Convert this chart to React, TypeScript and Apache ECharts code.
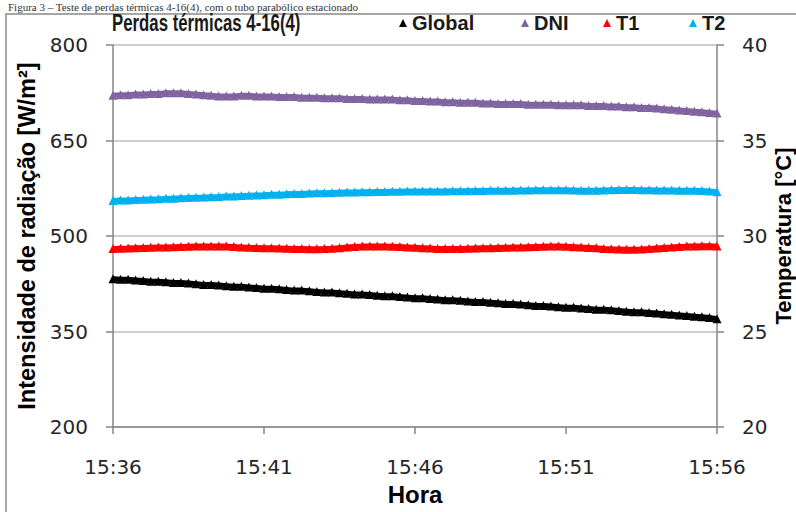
import React, { useEffect, useRef } from "react";
import * as echarts from "echarts";

// 15-second samples, 15:36:00 .. 15:56:00
const startMinute = 15 * 60 + 36;
const sampleCount = 81;
const times: string[] = [];
for (let i = 0; i < sampleCount; i++) {
  const totalSec = startMinute * 60 + i * 15;
  const h = Math.floor(totalSec / 3600);
  const m = Math.floor((totalSec % 3600) / 60);
  const s = totalSec % 60;
  times.push(`${h}:${String(m).padStart(2, "0")}:${String(s).padStart(2, "0")}`);
}

const seriesNames = ["Global", "DNI", "T1", "T2"];

const globalValues = [
  433, 432, 432, 431, 430, 429, 429, 428, 427, 427,
  426, 425, 424, 424, 423, 422, 421, 421, 420, 419,
  418, 418, 417, 416, 415, 415, 414, 413, 412, 412,
  411, 410, 409, 409, 408, 407, 406, 406, 405, 404,
  403, 403, 402, 401, 400, 400, 399, 398, 397, 397,
  396, 395, 394, 394, 393, 392, 391, 391, 390, 389,
  388, 388, 387, 386, 385, 385, 384, 383, 382, 381,
  381, 380, 379, 378, 377, 376, 375, 374, 373, 372,
  370,
];

const dniValues = [
  721, 722, 722, 723, 723, 724, 724, 725, 725, 725,
  724, 723, 722, 721, 720, 720, 720, 721, 721, 720,
  720, 720, 719, 719, 719, 718, 718, 718, 717, 717,
  717, 716, 716, 716, 715, 715, 715, 715, 714, 714,
  713, 713, 712, 712, 711, 711, 710, 710, 710, 709,
  709, 708, 708, 708, 708, 707, 707, 707, 707, 706,
  706, 706, 706, 705, 705, 705, 704, 704, 703, 703,
  702, 702, 701, 700, 699, 698, 697, 696, 695, 694,
  693,
];

const t1Values = [
  29.34, 29.36, 29.37, 29.39, 29.40, 29.41, 29.42, 29.43, 29.44, 29.45,
  29.46, 29.47, 29.48, 29.48, 29.48, 29.47, 29.45, 29.43, 29.41, 29.40,
  29.39, 29.38, 29.37, 29.36, 29.35, 29.34, 29.33, 29.33, 29.34, 29.36,
  29.39, 29.42, 29.45, 29.47, 29.48, 29.48, 29.47, 29.46, 29.45, 29.43,
  29.41, 29.39, 29.37, 29.35, 29.34, 29.34, 29.35, 29.36, 29.37, 29.38,
  29.39, 29.40, 29.41, 29.42, 29.43, 29.44, 29.45, 29.46, 29.47, 29.47,
  29.46, 29.44, 29.42, 29.40, 29.38, 29.35, 29.33, 29.32, 29.31, 29.31,
  29.32, 29.34, 29.37, 29.40, 29.43, 29.45, 29.47, 29.48, 29.49, 29.49,
  29.47,
];

const t2Values = [
  31.86, 31.88, 31.89, 31.91, 31.92, 31.94, 31.95, 31.97, 31.98, 32.00,
  32.01, 32.03, 32.04, 32.06, 32.07, 32.09, 32.10, 32.12, 32.13, 32.15,
  32.16, 32.18, 32.19, 32.21, 32.22, 32.23, 32.25, 32.26, 32.27, 32.28,
  32.29, 32.30, 32.31, 32.32, 32.32, 32.33, 32.33, 32.34, 32.34, 32.35,
  32.35, 32.35, 32.36, 32.36, 32.36, 32.37, 32.37, 32.37, 32.38, 32.38,
  32.39, 32.39, 32.40, 32.40, 32.41, 32.41, 32.42, 32.42, 32.42, 32.42,
  32.42, 32.41, 32.40, 32.40, 32.40, 32.41, 32.42, 32.43, 32.43, 32.43,
  32.42, 32.42, 32.41, 32.41, 32.41, 32.40, 32.40, 32.39, 32.38, 32.36,
  32.32,
];

const leftTicks = { min: 200, max: 800, interval: 150 };
const rightTicks = { min: 20, max: 40, interval: 5 };

const colors = ["#000000", "#8064A2", "#FF0000", "#00B0F0"];

const titleText = "Perdas térmicas 4-16(4)";
const captionText = "Figura 3 – Teste de perdas térmicas 4-16(4), com o tubo parabólico estacionado";

const sansBold = "'Liberation Sans', Arial, sans-serif";
const tickFont = "'DejaVu Sans', sans-serif";

export default function App() {
  const ref = useRef<HTMLDivElement>(null);
  useEffect(() => {
    if (!ref.current) return;
    const chart = echarts.init(ref.current, undefined, { renderer: "svg" });
    const valuesList = [globalValues, dniValues, t1Values, t2Values];
    const legendLefts = [399, 521, 603, 689];
    const option: any = {
      animation: false,
      backgroundColor: "#ffffff",
      legend: seriesNames.map((n, i) => ({
        data: [n],
        left: legendLefts[i],
        top: 13,
        padding: 0,
        icon: "triangle",
        itemWidth: 8,
        itemHeight: 8,
        itemGap: 6,
        textStyle: { fontFamily: sansBold, fontWeight: "bold", fontSize: 20, color: "#1a1a1a" },
      })),
      grid: { left: 113, right: 79, top: 45, bottom: 85, outerBoundsMode: "none", containLabel: false },
      xAxis: {
        type: "category",
        data: times,
        boundaryGap: false,
        name: "Hora",
        nameLocation: "middle",
        nameGap: 55,
        nameMoveOverlap: false,
        nameTextStyle: { fontFamily: sansBold, fontWeight: "bold", fontSize: 24, color: "#000" },
        axisLine: { lineStyle: { color: "#868686", width: 1.5 } },
        axisTick: { interval: 19, length: 7, lineStyle: { color: "#868686", width: 1.5 } },
        axisLabel: {
          interval: 19,
          margin: 30,
          fontFamily: tickFont,
          fontSize: 20,
          color: "#262626",
          formatter: (v: string) => v.slice(0, 5),
        },
        splitLine: { show: false },
      },
      yAxis: [
        {
          type: "value",
          ...leftTicks,
          position: "left",
          name: "Intensidade de radiação [W/m²]",
          nameLocation: "middle",
          nameGap: 74,
          nameRotate: 90,
          nameMoveOverlap: false,
          nameTextStyle: { fontFamily: sansBold, fontWeight: "bold", fontSize: 23.5, color: "#000" },
          axisLine: { show: true, lineStyle: { color: "#868686", width: 1.5 } },
          axisTick: { show: true, length: 7, lineStyle: { color: "#868686", width: 1.5 } },
          axisLabel: { margin: 25, fontFamily: tickFont, fontSize: 20, color: "#262626" },
          splitLine: { show: true, lineStyle: { color: "#BEBEBE", width: 1.5 } },
        },
        {
          type: "value",
          ...rightTicks,
          position: "right",
          name: "Temperatura [°C]",
          nameLocation: "middle",
          nameGap: 55,
          nameRotate: 90,
          nameMoveOverlap: false,
          nameTextStyle: {
            fontFamily: sansBold,
            fontWeight: "bold",
            fontSize: 22,
            lineHeight: 22,
            color: "#000",
          },
          axisLine: { show: true, lineStyle: { color: "#868686", width: 1.5 } },
          axisTick: { show: true, length: 7, lineStyle: { color: "#868686", width: 1.5 } },
          axisLabel: { margin: 25, fontFamily: tickFont, fontSize: 20, color: "#262626" },
          splitLine: { show: false },
        },
      ],
      graphic: [
        {
          type: "rect",
          shape: { x: 6, y: 14, width: 900, height: 600 },
          style: { fill: "none", stroke: "#A6A6A6", lineWidth: 2 },
          silent: true,
        },
        {
          type: "text",
          x: 8,
          y: 1,
          style: { text: captionText, font: "11px 'Liberation Serif', serif", fill: "#333" },
          silent: true,
        },
        {
          type: "text",
          x: 112,
          y: 11,
          scaleX: 0.73,
          style: { text: titleText, font: "bold 23px 'Liberation Sans', Arial, sans-serif", fill: "#1a1a1a" },
          silent: true,
        },
      ],
      series: seriesNames.map((n, i) => ({
        name: n,
        type: "line",
        yAxisIndex: i < 2 ? 0 : 1,
        data: valuesList[i],
        symbol: "triangle",
        symbolSize: 9,
        showAllSymbol: true,
        itemStyle: { color: colors[i] },
        lineStyle: { color: colors[i], width: 5 },
      })),
    };
    chart.setOption(option);
    return () => chart.dispose();
  }, []);
  return <div ref={ref} style={{ width: 796, height: 512, position: "absolute", left: 0, top: 0 }} />;
}
